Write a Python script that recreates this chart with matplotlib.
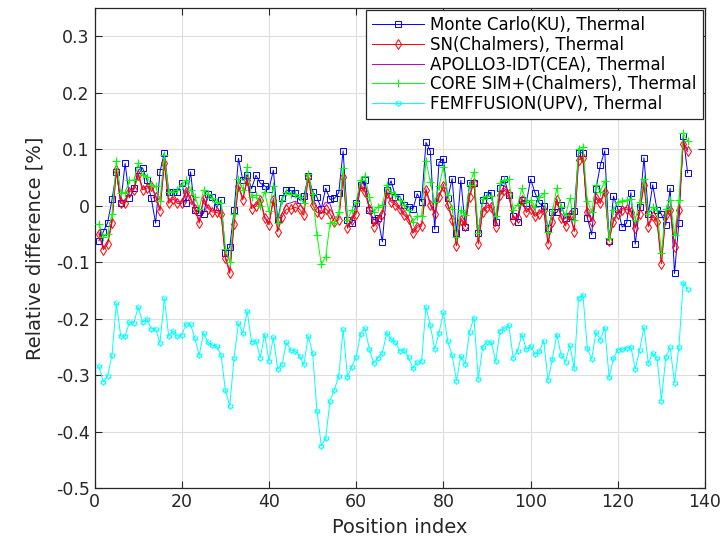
import numpy as np
import matplotlib.pyplot as plt

# relative difference of thermal flux per position, five codes
pos = np.arange(1, 137)

mc_ku = [-0.062, -0.046, -0.030, 0.011, 0.060, 0.005, 0.075, 0.014, 0.031, 0.063,
         0.067, 0.045, 0.013, -0.031, 0.060, 0.094, 0.025, 0.025, 0.025, 0.040,
         0.005, 0.060, -0.008, -0.011, -0.014, 0.021, 0.016, -0.003, 0.010, -0.084,
         -0.073, -0.008, 0.084, 0.045, 0.055, 0.030, 0.054, 0.040, 0.035, 0.029,
         0.063, -0.025, 0.014, 0.027, 0.027, 0.023, 0.010, 0.017, 0.053, 0.025,
         0.015, -0.005, 0.031, 0.011, 0.013, 0.023, 0.097, -0.025, -0.031, 0.004,
         0.037, 0.045, -0.008, -0.025, -0.022, -0.064, 0.027, 0.044, 0.016, 0.016,
         0.001, -0.002, -0.006, 0.021, 0.007, 0.112, 0.097, -0.042, 0.077, 0.083,
         0.013, 0.048, -0.049, 0.045, -0.037, 0.041, 0.040, -0.048, 0.010, 0.019,
         0.023, -0.028, 0.032, 0.047, 0.019, -0.019, -0.028, 0.010, 0.005, 0.047,
         0.023, 0.004, -0.001, -0.040, -0.012, -0.012, 0.001, -0.022, -0.019, -0.009,
         0.093, 0.094, -0.021, -0.051, 0.030, 0.072, 0.097, -0.062, 0.017, -0.006,
         -0.038, -0.031, 0.023, -0.068, -0.003, 0.085, -0.014, 0.037, -0.008, -0.015,
         -0.034, 0.031, -0.120, -0.030, 0.123, 0.058]

sn_chalmers = [-0.050, -0.078, -0.068, -0.030, 0.063, 0.004, 0.004, 0.025, 0.028, 0.054,
               0.028, 0.031, 0.034, 0.016, -0.009, 0.075, 0.004, 0.012, 0.004, 0.004,
               0.025, 0.011, -0.005, -0.031, 0.011, -0.005, -0.011, -0.012, -0.014, -0.093,
               -0.120, -0.032, 0.034, 0.010, 0.045, -0.005, -0.001, 0.010, -0.022, -0.034,
               0.010, -0.046, -0.020, -0.006, -0.006, -0.003, -0.006, -0.017, 0.050, 0.001,
               -0.012, -0.014, -0.005, -0.014, -0.028, -0.025, 0.051, -0.040, -0.025, -0.014,
               0.034, 0.025, -0.005, -0.037, -0.025, -0.014, 0.022, 0.007, 0.001, -0.006,
               -0.017, -0.024, -0.049, -0.038, -0.036, 0.027, 0.001, -0.014, 0.015, 0.035,
               0.001, -0.025, -0.071, -0.025, -0.036, 0.016, 0.041, -0.068, -0.011, -0.003,
               -0.002, -0.037, 0.019, 0.027, 0.021, -0.025, -0.022, 0.010, -0.012, -0.005,
               -0.019, -0.014, -0.008, -0.068, -0.028, 0.010, -0.022, -0.036, -0.016, -0.046,
               0.081, 0.084, -0.011, -0.028, 0.013, 0.004, 0.025, -0.062, -0.028, -0.014,
               -0.008, -0.006, -0.011, -0.040, -0.014, 0.037, -0.037, -0.019, -0.028, -0.103,
               -0.017, -0.008, -0.073, -0.008, 0.110, 0.096]

apollo3_cea = [-0.047, -0.075, -0.064, -0.027, 0.066, 0.007, 0.007, 0.028, 0.031, 0.058,
               0.031, 0.034, 0.036, 0.019, -0.006, 0.078, 0.007, 0.015, 0.007, 0.007,
               0.028, 0.014, -0.002, -0.027, 0.014, -0.002, -0.008, -0.009, -0.011, -0.090,
               -0.116, -0.029, 0.037, 0.013, 0.048, -0.002, 0.002, 0.013, -0.019, -0.031,
               0.013, -0.042, -0.014, 0.003, 0.005, 0.008, 0.004, -0.008, 0.054, 0.008,
               -0.003, -0.004, 0.006, 0.003, -0.020, -0.020, 0.054, -0.037, -0.022, -0.011,
               0.037, 0.028, -0.002, -0.034, -0.022, -0.011, 0.025, 0.010, 0.004, -0.003,
               -0.014, -0.021, -0.046, -0.035, -0.033, 0.030, 0.004, -0.011, 0.018, 0.038,
               0.004, -0.022, -0.068, -0.022, -0.033, 0.019, 0.044, -0.065, -0.008, 0.000,
               0.001, -0.034, 0.022, 0.030, 0.024, -0.022, -0.019, 0.013, -0.009, -0.002,
               -0.016, -0.011, -0.005, -0.065, -0.025, 0.013, -0.019, -0.033, -0.013, -0.043,
               0.084, 0.087, -0.008, -0.025, 0.016, 0.007, 0.028, -0.059, -0.025, -0.011,
               -0.005, -0.003, -0.008, -0.037, -0.011, 0.040, -0.034, -0.016, -0.025, -0.100,
               -0.014, -0.005, -0.070, -0.005, 0.113, 0.099]

core_sim = [-0.032, -0.055, -0.050, -0.014, 0.080, 0.023, 0.023, 0.045, 0.045, 0.075,
            0.054, 0.051, 0.037, 0.034, 0.009, 0.090, 0.025, 0.025, 0.028, 0.037,
            0.045, 0.028, 0.016, -0.005, 0.028, 0.021, 0.013, 0.007, 0.004, -0.076,
            -0.099, -0.014, 0.048, 0.028, 0.068, 0.016, 0.019, 0.000, 0.025, -0.010,
            0.035, -0.030, 0.010, 0.025, 0.020, 0.020, 0.015, 0.005, 0.057, 0.020,
            -0.052, -0.104, -0.091, -0.031, -0.030, -0.011, 0.066, -0.025, -0.008, 0.007,
            0.045, 0.053, 0.016, -0.011, -0.002, 0.001, 0.037, 0.025, 0.019, 0.010,
            0.001, -0.008, -0.028, -0.019, -0.018, 0.080, 0.042, 0.007, 0.034, 0.069,
            0.019, -0.005, -0.055, -0.008, -0.017, 0.037, 0.060, -0.048, 0.011, 0.017,
            0.017, -0.019, 0.040, 0.045, 0.047, -0.008, 0.001, 0.031, 0.007, 0.010,
            -0.002, 0.015, 0.022, -0.046, -0.010, 0.031, -0.003, -0.017, 0.013, -0.025,
            0.101, 0.104, 0.009, -0.011, 0.037, 0.025, 0.044, -0.058, -0.008, 0.007,
            0.009, 0.010, 0.011, -0.025, 0.007, 0.047, -0.015, -0.003, -0.008, -0.083,
            -0.006, 0.010, -0.051, 0.010, 0.128, 0.115]

femffusion = [-0.284, -0.312, -0.301, -0.264, -0.173, -0.231, -0.231, -0.206, -0.208, -0.179,
              -0.206, -0.200, -0.218, -0.218, -0.243, -0.164, -0.231, -0.222, -0.231, -0.229,
              -0.209, -0.210, -0.235, -0.265, -0.225, -0.242, -0.247, -0.249, -0.264, -0.327,
              -0.354, -0.269, -0.208, -0.226, -0.187, -0.241, -0.239, -0.269, -0.228, -0.275,
              -0.233, -0.289, -0.281, -0.242, -0.256, -0.257, -0.266, -0.281, -0.231, -0.261,
              -0.363, -0.425, -0.412, -0.345, -0.326, -0.301, -0.219, -0.303, -0.285, -0.268,
              -0.227, -0.217, -0.253, -0.279, -0.270, -0.261, -0.225, -0.236, -0.242, -0.257,
              -0.255, -0.268, -0.288, -0.277, -0.275, -0.179, -0.212, -0.254, -0.225, -0.189,
              -0.240, -0.265, -0.310, -0.266, -0.280, -0.223, -0.198, -0.307, -0.250, -0.241,
              -0.242, -0.275, -0.221, -0.217, -0.212, -0.269, -0.257, -0.228, -0.254, -0.248,
              -0.263, -0.258, -0.239, -0.309, -0.271, -0.228, -0.264, -0.276, -0.247, -0.288,
              -0.163, -0.158, -0.252, -0.271, -0.224, -0.237, -0.216, -0.304, -0.270, -0.255,
              -0.254, -0.252, -0.250, -0.289, -0.255, -0.215, -0.279, -0.261, -0.270, -0.345,
              -0.268, -0.251, -0.313, -0.251, -0.136, -0.147]

# six-pointed star marker (like matlab 'hexagram')
ang = np.deg2rad(np.arange(12) * 30 + 90)
rad = np.where(np.arange(12) % 2 == 0, 1.0, 0.55)
hexagram = list(zip(rad * np.cos(ang), rad * np.sin(ang)))

fig = plt.figure(figsize=(7.22, 5.43), dpi=100)
ax = fig.add_axes([0.131, 0.101, 0.8455, 0.8843])

ms = 4.3
lw = 0.7
ax.plot(pos, mc_ku, color=(0, 0, 1), lw=lw, marker='s', ms=ms, mfc='none', mew=0.7,
        label='Monte Carlo(KU), Thermal', zorder=3)
ax.plot(pos, apollo3_cea, color=(0.75, 0, 0.75), lw=lw,
        label='APOLLO3-IDT(CEA), Thermal', zorder=3.5)
ax.plot(pos, sn_chalmers, color=(1, 0, 0), lw=lw, marker='d', ms=ms + 0.5, mfc='none', mew=0.7,
        label='SN(Chalmers), Thermal', zorder=4)
ax.plot(pos, core_sim, color=(0, 1, 0), lw=lw, marker='+', ms=ms + 2, mew=0.8,
        label='CORE SIM+(Chalmers), Thermal', zorder=5)
ax.plot(pos, femffusion, color=(0, 1, 1), lw=lw, marker=hexagram, ms=ms, mfc='none', mew=0.7,
        label='FEMFFUSION(UPV), Thermal', zorder=3)

ax.set_xlim(0, 140)
ax.set_ylim(-0.5, 0.35)
ax.set_xticks(np.arange(0, 141, 20))
ax.set_yticks(np.round(np.arange(-0.5, 0.31, 0.1), 1))
ax.set_yticklabels(['-0.5', '-0.4', '-0.3', '-0.2', '-0.1', '0', '0.1', '0.2', '0.3'])
ax.grid(True, color=(0.87, 0.87, 0.87), lw=0.8)
ax.set_axisbelow(True)
ax.tick_params(direction='in', top=True, right=True, length=5, labelsize=12.5,
               colors=(0.15, 0.15, 0.15))
for s in ax.spines.values():
    s.set_color((0.15, 0.15, 0.15))
    s.set_linewidth(0.9)

ax.set_xlabel('Position index', fontsize=14, color=(0.15, 0.15, 0.15), labelpad=5)
ax.set_ylabel('Relative difference [%]', fontsize=14, color=(0.15, 0.15, 0.15), labelpad=8)

h, l = ax.get_legend_handles_labels()
order = [0, 2, 1, 3, 4]
leg = ax.legend([h[i] for i in order], [l[i] for i in order], loc='upper right',
                fontsize=12, fancybox=False, framealpha=1, edgecolor=(0.15, 0.15, 0.15),
                borderaxespad=0.15, handlelength=3.1, labelspacing=0.1, borderpad=0.35,
                handletextpad=0.4)
leg.get_frame().set_linewidth(0.9)

fig.savefig('out.png', dpi=100)
